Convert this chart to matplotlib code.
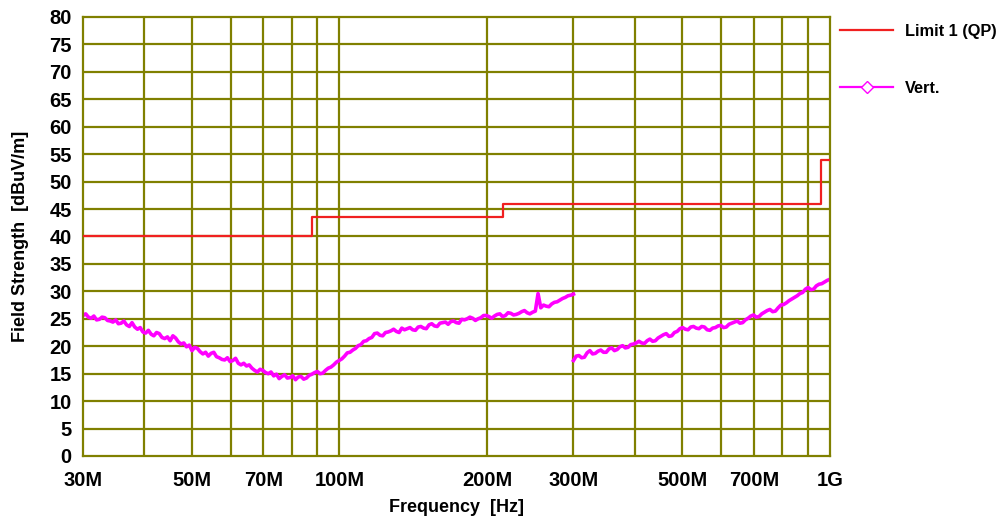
import numpy as np
import matplotlib
matplotlib.use("Agg")
import matplotlib.pyplot as plt
from matplotlib.lines import Line2D

plt.rcParams['font.family'] = ['Liberation Sans', 'DejaVu Sans']

# limit line (QP), step edges in Hz and levels in dBuV/m
limit_freq = [30e6, 88e6, 216e6, 960e6, 1000e6]
limit_level = [40, 43.5, 46, 54, 54]

# vertical polarisation sweep, 30M - 300M
vert_lo = [25.6, 25.9, 25.3, 25.1, 25.5, 24.8, 24.9, 25.3, 25.2, 24.7,
           24.6, 24.4, 24.8, 24.1, 24.2, 24.6, 23.9, 23.6, 24.3, 23.5,
           23.1, 23.4, 22.6, 22.4, 22.9, 22.2, 21.9, 22.5, 22.3, 21.6,
           21.4, 21.7, 21.0, 21.9, 21.5, 20.8, 20.4, 20.6, 19.9, 20.2,
           19.2, 19.8, 19.6, 19.0, 18.6, 18.9, 18.2, 18.7, 18.9, 18.1,
           17.9, 17.6, 17.5, 17.9, 17.2, 17.4, 17.8, 16.9, 16.6, 16.9,
           16.4, 16.6, 16.0, 15.6, 15.3, 15.8, 15.6, 15.2, 15.0, 15.3,
           14.6, 14.9, 14.1, 14.5, 14.8, 14.2, 14.3, 14.6, 13.9, 14.4,
           14.5, 14.0, 14.2, 14.7, 14.9, 15.2, 15.4, 15.0, 15.1, 15.6,
           16.0, 16.2, 16.6, 17.1, 17.4, 17.7, 18.2, 18.8, 18.9, 19.3,
           19.6, 20.1, 20.3, 20.9, 21.0, 21.4, 21.6, 22.3, 22.4, 22.0,
           21.9, 22.5, 22.6, 22.8, 23.1, 22.7, 22.5, 23.3, 23.0, 23.2,
           23.4, 23.0, 22.9, 23.5, 23.6, 23.3, 23.2, 23.9, 24.1, 23.7,
           23.6, 24.2, 24.3, 24.4, 24.0, 24.5, 24.6, 24.3, 24.2, 24.9,
           24.8, 25.0, 25.3, 25.1, 24.7, 25.0, 25.2, 25.6, 25.6, 25.4,
           25.1, 25.5, 25.8, 25.9, 25.4, 25.6, 26.1, 26.0, 25.7, 25.8,
           26.0, 26.3, 26.5, 26.1, 25.9, 26.2, 26.4, 29.6, 27.0, 27.5,
           27.3, 27.2, 27.7, 28.0, 28.1, 28.4, 28.7, 28.9, 29.2, 29.3,
           29.5]
# 300M - 1G
vert_hi = [17.4, 18.2, 18.3, 17.9, 18.0, 18.8, 19.2, 18.6, 18.7, 19.1,
           19.3, 18.9, 18.9, 19.5, 19.7, 19.2, 19.4, 19.9, 20.1, 19.7,
           19.8, 20.3, 20.4, 20.6, 20.9, 20.6, 20.5, 21.0, 21.3, 20.9,
           21.0, 21.5, 21.8, 22.1, 22.3, 21.8, 21.9, 22.5, 22.7, 23.2,
           23.4, 23.1, 23.0, 23.5, 23.6, 23.3, 23.2, 23.6, 23.5, 23.0,
           22.9, 23.3, 23.4, 23.7, 23.8, 23.4, 23.5, 24.0, 24.2, 24.4,
           24.6, 24.2, 24.3, 24.8, 25.1, 25.5, 25.7, 25.3, 25.4, 25.9,
           26.2, 26.5, 26.7, 26.3, 26.4, 27.0, 27.5, 27.6, 27.9, 28.3,
           28.6, 28.9, 29.2, 29.6, 29.8, 30.4, 30.7, 30.3, 30.4, 31.0,
           31.3, 31.4, 31.7, 32.0, 32.2]
freq_lo = np.geomspace(30e6, 300e6, len(vert_lo))
freq_hi = np.geomspace(300e6, 1000e6, len(vert_hi))

xticks = [30e6, 50e6, 70e6, 100e6, 200e6, 300e6, 500e6, 700e6, 1e9]
xtick_labels = ['30M', '50M', '70M', '100M', '200M', '300M', '500M', '700M', '1G']
xgrid = [40e6, 50e6, 60e6, 70e6, 80e6, 90e6, 100e6, 200e6, 300e6, 400e6,
         500e6, 600e6, 700e6, 800e6, 900e6]

olive = '#808000'

fig = plt.figure(figsize=(10.02, 5.19), dpi=100)
ax = fig.add_axes([0.0828, 0.1214, 0.7455, 0.8459])

ax.set_xscale('log')
ax.set_xlim(30e6, 1e9)
ax.set_ylim(0, 80)

for f in xgrid:
    ax.axvline(f, color=olive, lw=1.6, zorder=1)
for v in range(5, 80, 5):
    ax.axhline(v, color=olive, lw=1.6, zorder=1)

ax.plot(limit_freq, limit_level, drawstyle='steps-post', color='#f02020', lw=1.6, zorder=3)
ax.plot(freq_lo, vert_lo, color='#ff00ff', lw=2.6, zorder=2)
ax.plot(freq_hi, vert_hi, color='#ff00ff', lw=2.6, zorder=2)

ax.set_xticks(xticks)
ax.set_xticklabels(xtick_labels)
ax.xaxis.set_minor_locator(matplotlib.ticker.NullLocator())
ax.set_yticks(range(0, 81, 5))
ax.tick_params(length=0, labelsize=14.5)
ax.tick_params(axis='x', pad=11)
ax.tick_params(axis='y', pad=8)
for lab in ax.get_xticklabels() + ax.get_yticklabels():
    lab.set_fontweight('bold')

for s in ax.spines.values():
    s.set_color(olive)
    s.set_linewidth(1.6)

ax.set_xlabel('Frequency  [Hz]', fontsize=13, fontweight='bold', labelpad=6)
ax.set_ylabel('Field Strength  [dBuV/m]', fontsize=13, fontweight='bold', labelpad=15)

handles = [Line2D([], [], color='#f02020', lw=1.6),
           Line2D([], [], color='#ff00ff', lw=1.6, marker='D', markersize=6,
                  markerfacecolor='white', markeredgecolor='#ff00ff')]
leg = fig.legend(handles, ['Limit 1 (QP)', 'Vert.'], loc='upper left',
                 bbox_to_anchor=(0.824, 0.982), frameon=False,
                 prop={'size': 11.8, 'weight': 'bold'},
                 handlelength=3.2, handletextpad=0.75, labelspacing=2.55)

fig.savefig('out.png', dpi=100)
